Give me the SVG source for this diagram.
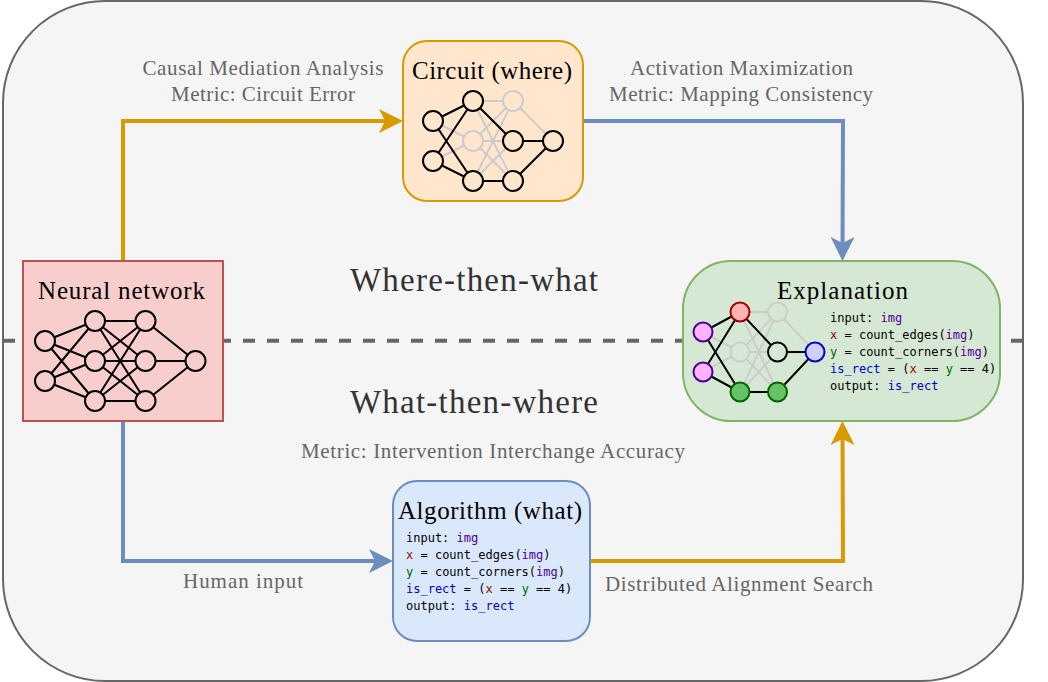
<svg xmlns="http://www.w3.org/2000/svg" width="1048" height="682" viewBox="0 0 1048 682">
<style>
.t{font-family:"Liberation Serif","Times New Roman",serif;text-anchor:middle;fill:#000}
.title{font-size:25px}
.big{font-size:33px;fill:#333}
.g{font-size:21px;fill:#666}
.c{font-family:"DejaVu Sans Mono",monospace;font-size:12px;fill:#000;white-space:pre}
.r{fill:#a00000}.gr{fill:#006400}.b{fill:#0000c8}.p{fill:#4b0096}
.e{stroke:#000;stroke-width:2;fill:none}
.f{stroke:#ccc;stroke-width:2;fill:none}
.n{stroke:#000;stroke-width:2}
.nf{stroke:#ccc;stroke-width:2}
.con{fill:none;stroke-width:4}
</style>
<defs>
<marker id="ao" markerUnits="userSpaceOnUse" markerWidth="26" markerHeight="26" refX="14" refY="13" orient="auto"><path d="M0,1 L24,13 L0,25 L6,13 Z" fill="#d79b00"/></marker>
<marker id="ab" markerUnits="userSpaceOnUse" markerWidth="26" markerHeight="26" refX="14" refY="13" orient="auto"><path d="M0,1 L24,13 L0,25 L6,13 Z" fill="#6c8ebf"/></marker>
</defs>
<rect id="background" x="3" y="1" width="1020" height="680" rx="102" fill="#f5f5f5" stroke="#666" stroke-width="2"/>
<line id="divider" x1="3" y1="340.700" x2="1023" y2="340.700" stroke="#666" stroke-width="4" stroke-dasharray="12 12"/>
<g id="connectors">
<path class="con" stroke="#d79b00" marker-end="url(#ao)" d="M123,261 V121 H393"/>
<path class="con" stroke="#6c8ebf" marker-end="url(#ab)" d="M583,121 H843 L842.500,251"/>
<path class="con" stroke="#6c8ebf" marker-end="url(#ab)" d="M123,421 V561 H383"/>
<path class="con" stroke="#d79b00" marker-end="url(#ao)" d="M590,561 H843 L842.500,431"/>
</g>
<g id="neural-network">
<rect x="23" y="261" width="200" height="160" fill="#f8cecc" stroke="#b85450" stroke-width="2"/>
<text class="t title" x="121.500" y="299" textLength="167">Neural network</text>
<g class="e">
<path d="M45,341 L95,321 M45,341 L95,361 M45,341 L95,401 M45,381 L95,321 M45,381 L95,361 M45,381 L95,401"/>
<path d="M95,321 H145.500 M95,321 L145.500,361 M95,321 L145.500,401 M95,361 L145.500,321 M95,361 H145.500 M95,361 L145.500,401 M95,401 L145.500,321 M95,401 L145.500,361 M95,401 H145.500"/>
<path d="M145.500,321 L195.500,361 M145.500,361 H195.500 M145.500,401 L195.500,361"/>
</g>
<g class="n" fill="#f8cecc">
<circle cx="45" cy="341" r="10"/><circle cx="45" cy="381" r="10"/>
<circle cx="95" cy="321" r="10"/><circle cx="95" cy="361" r="10"/><circle cx="95" cy="401" r="10"/>
<circle cx="145.500" cy="321" r="10"/><circle cx="145.500" cy="361" r="10"/><circle cx="145.500" cy="401" r="10"/>
<circle cx="195.500" cy="361" r="10"/>
</g>
</g>
<g id="circuit">
<rect x="403" y="41" width="180" height="160" rx="24" fill="#ffe6cc" stroke="#d79b00" stroke-width="2"/>
<text class="t title" x="492" y="79" textLength="160">Circuit (where)</text>
<g class="f">
<path d="M433,121 L473,141 M433,161 L473,141 M473,101 H513 M473,101 L513,181 M473,141 L513,101 M473,141 H513 M473,141 L513,181 M473,181 L513,101 M473,181 L513,141 M513,101 L553,141"/>
</g>
<g class="nf" fill="#ffe6cc"><circle cx="473" cy="141" r="10"/><circle cx="513" cy="101" r="10"/></g>
<g class="e">
<path d="M433,121 L473,101 M433,121 L473,181 M433,161 L473,101 M433,161 L473,181 M473,101 L513,141 M473,181 H513 M513,141 H553 M513,181 L553,141"/>
</g>
<g class="n" fill="#ffe6cc">
<circle cx="433" cy="121" r="10"/><circle cx="433" cy="161" r="10"/>
<circle cx="473" cy="101" r="10"/><circle cx="473" cy="181" r="10"/>
<circle cx="513" cy="141" r="10"/><circle cx="513" cy="181" r="10"/>
<circle cx="553" cy="141" r="10"/>
</g>
</g>
<g id="explanation">
<rect x="683" y="261" width="317" height="160" rx="48" fill="#d5e8d4" stroke="#82b366" stroke-width="2"/>
<text class="t title" x="842.500" y="299" textLength="131">Explanation</text>
<g class="f">
<path d="M703,332 L740,352 M703,372 L740,352 M740,312 H777.500 M740,312 L777.500,392 M740,352 L777.500,312 M740,352 H777.500 M740,352 L777.500,392 M740,392 L777.500,312 M740,392 L777.500,352 M777.500,312 L815,352"/>
</g>
<g class="nf" fill="#d5e8d4"><circle cx="740" cy="352" r="9.500"/><circle cx="777.500" cy="312" r="9.500"/></g>
<g class="e">
<path d="M703,332 L740,312 M703,332 L740,392 M703,372 L740,312 M703,372 L740,392 M740,312 L777.500,352 M740,392 H777.500 M777.500,352 H815 M777.500,392 L815,352"/>
</g>
<g stroke-width="2">
<circle cx="703" cy="332" r="9.500" fill="#ffb3ff" stroke="#4b0096"/><circle cx="703" cy="372" r="9.500" fill="#ffb3ff" stroke="#4b0096"/>
<circle cx="740" cy="312" r="9.500" fill="#ffb3b3" stroke="#a00000"/>
<circle cx="740" cy="392" r="9.500" fill="#66c266" stroke="#006400"/><circle cx="777.500" cy="392" r="9.500" fill="#66c266" stroke="#006400"/>
<circle cx="777.500" cy="352" r="9.500" fill="#d5e8d4" stroke="#000"/>
<circle cx="815" cy="352" r="9.500" fill="#ccd0ff" stroke="#0000c8"/>
</g>
<text class="c" x="830" y="321.500">input: <tspan class="p">img</tspan></text>
<text class="c" x="830" y="338.500"><tspan class="r">x</tspan> = count_edges(<tspan class="p">img</tspan>)</text>
<text class="c" x="830" y="355.500"><tspan class="gr">y</tspan> = count_corners(<tspan class="p">img</tspan>)</text>
<text class="c" x="830" y="372.500"><tspan class="b">is_rect</tspan> = (<tspan class="r">x</tspan> == <tspan class="gr">y</tspan> == 4)</text>
<text class="c" x="830" y="389.500">output: <tspan class="b">is_rect</tspan></text>
</g>
<g id="algorithm">
<rect x="393" y="481" width="197" height="160" rx="24" fill="#dae8fc" stroke="#6c8ebf" stroke-width="2"/>
<text class="t title" x="490" y="519" textLength="184">Algorithm (what)</text>
<text class="c" x="406" y="541.500">input: <tspan class="p">img</tspan></text>
<text class="c" x="406" y="558.500"><tspan class="r">x</tspan> = count_edges(<tspan class="p">img</tspan>)</text>
<text class="c" x="406" y="575.500"><tspan class="gr">y</tspan> = count_corners(<tspan class="p">img</tspan>)</text>
<text class="c" x="406" y="592.500"><tspan class="b">is_rect</tspan> = (<tspan class="r">x</tspan> == <tspan class="gr">y</tspan> == 4)</text>
<text class="c" x="406" y="609.500">output: <tspan class="b">is_rect</tspan></text>
</g>
<g id="labels">
<text class="t big" x="474" y="291" textLength="248">Where-then-what</text>
<text class="t big" x="474" y="413" textLength="248">What-then-where</text>
<text class="t g" x="263" y="75" textLength="241">Causal Mediation Analysis</text>
<text class="t g" x="263" y="101" textLength="184">Metric: Circuit Error</text>
<text class="t g" x="741.500" y="75" textLength="223">Activation Maximization</text>
<text class="t g" x="741" y="101" textLength="264">Metric: Mapping Consistency</text>
<text class="t g" x="493" y="458" textLength="384">Metric: Intervention Interchange Accuracy</text>
<text class="t g" x="243" y="588" textLength="120">Human input</text>
<text class="t g" x="739" y="591" textLength="268">Distributed Alignment Search</text>
</g>
</svg>
